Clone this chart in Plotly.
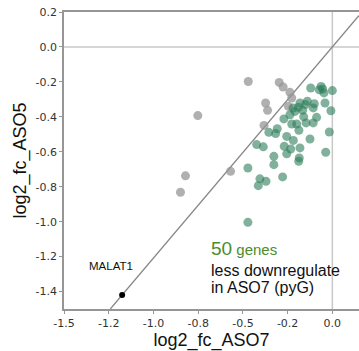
import plotly.graph_objects as go

# ---- data ----
green_x = [-0.121, -0.073, -0.054, -0.047, 0.000, -0.181, -0.140, -0.101, -0.107, -0.041,
           -0.166, -0.209, -0.237, -0.008, -0.271, -0.227, -0.199, -0.147, -0.107, -0.088,
           -0.308, -0.355, -0.317, -0.187, -0.255, -0.218, -0.125, -0.017, -0.423, -0.386,
           -0.269, -0.233, -0.181, -0.255, -0.037, -0.327, -0.185, -0.188, -0.327, -0.472,
           -0.278, -0.405, -0.371, -0.414, -0.472, -0.063, -0.190, -0.150, -0.220, -0.160]
green_y = [-0.235, -0.245, -0.241, -0.263, -0.250, -0.321, -0.311, -0.325, -0.349, -0.321,
           -0.363, -0.369, -0.388, -0.365, -0.412, -0.441, -0.441, -0.435, -0.435, -0.403,
           -0.468, -0.489, -0.496, -0.477, -0.512, -0.535, -0.527, -0.487, -0.559, -0.572,
           -0.569, -0.584, -0.578, -0.612, -0.603, -0.626, -0.635, -0.655, -0.674, -0.693,
           -0.744, -0.755, -0.769, -0.794, -1.004, -0.226, -0.345, -0.330, -0.350, -0.400]

gray_x = [-0.470, -0.297, -0.275, -0.237, -0.227, -0.373, -0.362, -0.246, -0.752, -0.382,
          -0.569, -0.821, -0.849]
gray_y = [-0.198, -0.203, -0.229, -0.260, -0.292, -0.321, -0.363, -0.340, -0.393, -0.449,
          -0.712, -0.738, -0.832]

malat1_x = [-1.175]
malat1_y = [-1.42]

x_tickvals = [-1.5, -1.25, -1.0, -0.75, -0.5, -0.25, 0.0]
x_ticktext = ["-1.5", "-1.2", "-1.0", "-0.8", "-0.5", "-0.2", "0.0"]
y_tickvals = [-1.4, -1.2, -1.0, -0.8, -0.6, -0.4, -0.2, 0.0, 0.2]
y_ticktext = ["-1.4", "-1.2", "-1.0", "-0.8", "-0.6", "-0.4", "-0.2", "0.0", "0.2"]

x_range = [-1.5, 0.149]
y_range = [-1.5, 0.2]

# diagonal reference line through origin and MALAT1
slope = malat1_y[0] / malat1_x[0]
diag_x = [y_range[0] / slope, x_range[1]]
diag_y = [v * slope for v in diag_x]

fig = go.Figure()

fig.add_shape(type="line", x0=x_range[0], x1=x_range[1], y0=0, y1=0,
              line=dict(color="rgb(200,200,200)", width=1.5), layer="below")
fig.add_shape(type="line", x0=0, x1=0, y0=y_range[0], y1=y_range[1],
              line=dict(color="rgb(200,200,200)", width=1.5), layer="below")

fig.add_trace(go.Scatter(x=diag_x, y=diag_y, mode="lines",
                         line=dict(color="rgb(135,135,135)", width=1.3),
                         hoverinfo="skip", showlegend=False))

fig.add_trace(go.Scatter(x=gray_x, y=gray_y, mode="markers",
                         marker=dict(size=9, color="rgba(150,150,150,0.75)", line=dict(width=0)),
                         showlegend=False))
fig.add_trace(go.Scatter(x=green_x, y=green_y, mode="markers",
                         marker=dict(size=9, color="rgba(45,125,90,0.6)", line=dict(width=0)),
                         showlegend=False))
fig.add_trace(go.Scatter(x=malat1_x, y=malat1_y, mode="markers",
                         marker=dict(size=6, color="black", line=dict(width=0)),
                         showlegend=False))

ann_font = "Liberation Sans, Arial, sans-serif"
fig.add_annotation(x=-1.371, y=-1.255, text="MALAT1", showarrow=False,
                   xanchor="left", yanchor="middle",
                   font=dict(family=ann_font, size=11.5, color="#111"))
fig.add_annotation(x=-0.689, y=-1.154, showarrow=False, xanchor="left", yanchor="middle",
                   text="<span style='font-size:19px'>50</span> genes",
                   font=dict(family=ann_font, size=15, color="rgb(76,140,43)"))
fig.add_annotation(x=-0.689, y=-1.280, text="less downregulate", showarrow=False,
                   xanchor="left", yanchor="middle",
                   font=dict(family=ann_font, size=16, color="#111"))
fig.add_annotation(x=-0.689, y=-1.377, text="in ASO7 (pyG)", showarrow=False,
                   xanchor="left", yanchor="middle",
                   font=dict(family=ann_font, size=16, color="#111"))

axis_common = dict(showgrid=False, zeroline=False, showline=True,
                   linecolor="rgb(150,150,150)", linewidth=1.5,
                   ticks="outside", ticklen=3, tickwidth=1, tickcolor="rgb(150,150,150)",
                   tickfont=dict(family="DejaVu Sans", size=11, color="#333"))

fig.update_xaxes(range=x_range, tickvals=x_tickvals, ticktext=x_ticktext, mirror=True,
                 title=dict(text="log2_fc_ASO7", standoff=1,
                            font=dict(family=ann_font, size=18, color="#111")),
                 **axis_common)
fig.update_yaxes(range=y_range, tickvals=y_tickvals, ticktext=y_ticktext,
                 title=dict(text="log2_fc_ASO5", standoff=4,
                            font=dict(family=ann_font, size=18, color="#111")),
                 **axis_common)

fig.update_layout(width=359, height=351, margin=dict(l=64, r=0, t=12, b=42),
                  plot_bgcolor="white", paper_bgcolor="white")

fig.write_html("out.html")
